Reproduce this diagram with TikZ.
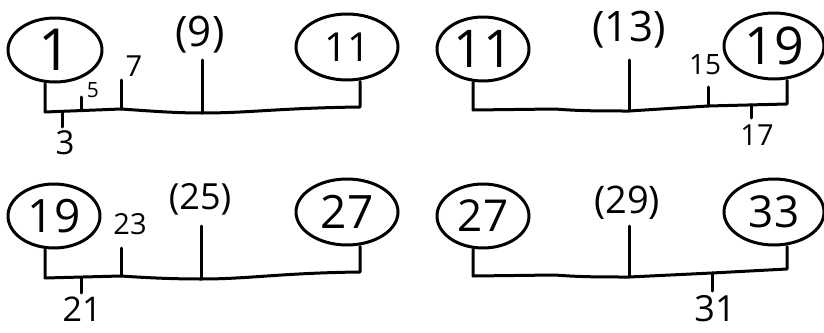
\documentclass[tikz,border=0pt]{standalone}
\usepackage{fontspec}
\setmainfont{Open Sans}
\usetikzlibrary{shapes.geometric}
\begin{document}
\begin{tikzpicture}[x=1pt,y=-1pt,line width=3pt,line cap=round,line join=round,
  blob/.style={draw,ellipse,inner sep=0pt},
  lab/.style={inner sep=0pt},
  fs/.style={font=\fontsize{#1}{#1}\selectfont}]
\useasboundingbox[fill=white] (0,0) rectangle (824,332);
% ---------- panel 1 ----------
\node[blob,minimum width=94pt,minimum height=64pt,fs=58] (a1) at (55,50) {1};
\node[blob,minimum width=102pt,minimum height=66pt,fs=40] (a11) at (347,47) {11};
\node[lab,fs=42] (a9) at (200,35) {(9)};
\node[lab,fs=21] (a5) at (93,90) {5};
\node[lab,fs=29] (a7) at (134,66) {7};
\node[lab,fs=33] (a3) at (65,143) {3};
\coordinate (aL) at (45,112);
\coordinate (a3b) at (62,111.5);
\coordinate (a5b) at (81,110.5);
\coordinate (a7b) at (121,109);
\coordinate (a9b) at (202,113);
\coordinate (aR) at (360,107);
\coordinate (a3t) at (62,127);
\coordinate (a5t) at (81,97);
\coordinate (a7t) at (121,80);
\coordinate (a9t) at (202,60);
\draw (aL |- a1.south) -- (aL) -- (a7b) .. controls (150,111) and (175,113) .. (a9b)
      .. controls (250,113) and (280,108) .. (aR) -- (aR |- a11.south);
\draw (a3b) -- (a3t);
\draw (a5b) -- (a5t);
\draw (a7b) -- (a7t);
\draw (a9b) -- (a9t);
% ---------- panel 2 ----------
\node[blob,minimum width=92pt,minimum height=64pt,fs=52] (b11) at (483,49) {11};
\node[blob,minimum width=100pt,minimum height=66pt,fs=52] (b19) at (774,46) {19};
\node[lab,fs=42] (b13) at (629,30) {(13)};
\node[lab,fs=28] (b15) at (705,65) {15};
\node[lab,fs=29] (b17) at (757,135) {17};
\coordinate (bL) at (473,110);
\coordinate (b13b) at (629,111);
\coordinate (b15b) at (708,106);
\coordinate (b17b) at (751,105);
\coordinate (bR) at (787,104);
\coordinate (b13t) at (629,60);
\coordinate (b15t) at (708,87);
\coordinate (b17t) at (751,118);
\draw (bL |- b11.south) -- (bL) -- (555,109) .. controls (580,111) and (600,111) .. (b13b)
      -- (b15b) -- (bR) -- (bR |- b19.south);
\draw (b13b) -- (b13t);
\draw (b15b) -- (b15t);
\draw (b17b) -- (b17t);
% ---------- panel 3 ----------
\node[blob,minimum width=92pt,minimum height=64pt,fs=46] (c19) at (54,216) {19};
\node[blob,minimum width=102pt,minimum height=66pt,fs=46] (c27) at (347,212) {27};
\node[lab,fs=36] (c25) at (200,199) {(25)};
\node[lab,fs=29] (c23) at (130,224) {23};
\node[lab,fs=34] (c21) at (82,309) {21};
\coordinate (cL) at (45,278);
\coordinate (c21b) at (81,277.5);
\coordinate (c23b) at (121,276);
\coordinate (c25b) at (201,279);
\coordinate (cR) at (360,272);
\coordinate (c21t) at (81,293);
\coordinate (c23t) at (121,248);
\coordinate (c25t) at (201,226);
\draw (cL |- c19.south) -- (cL) -- (c23b) .. controls (150,278) and (175,279) .. (c25b)
      .. controls (250,279) and (280,273) .. (cR) -- (cR |- c27.south);
\draw (c21b) -- (c21t);
\draw (c23b) -- (c23t);
\draw (c25b) -- (c25t);
% ---------- panel 4 ----------
\node[blob,minimum width=92pt,minimum height=64pt,fs=44] (d27) at (483,216) {27};
\node[blob,minimum width=100pt,minimum height=66pt,fs=44] (d33) at (774,212) {33};
\node[lab,fs=38] (d29) at (627,203) {(29)};
\node[lab,fs=36] (d31) at (715,309) {31};
\coordinate (dL) at (473,276);
\coordinate (d29b) at (629,277);
\coordinate (d31b) at (712,273);
\coordinate (dR) at (787,269);
\coordinate (d29t) at (629,226);
\coordinate (d31t) at (712,291);
\draw (dL |- d27.south) -- (dL) -- (555,275) .. controls (580,277) and (600,277) .. (d29b)
      -- (d31b) -- (dR) -- (dR |- d33.south);
\draw (d29b) -- (d29t);
\draw (d31b) -- (d31t);
\end{tikzpicture}
\end{document}
